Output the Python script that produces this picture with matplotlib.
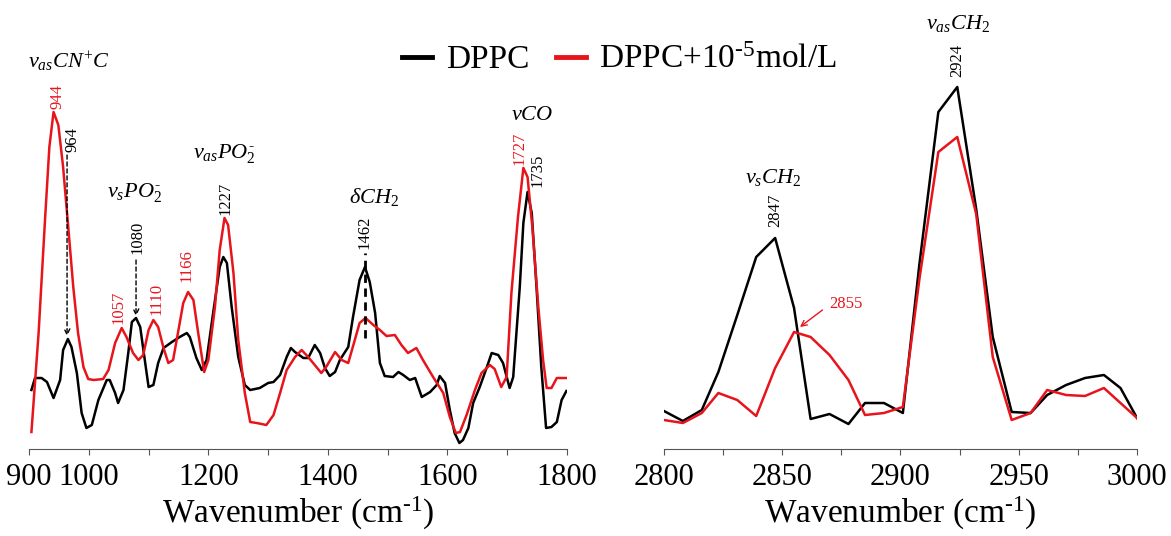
import matplotlib as mpl, matplotlib.pyplot as plt, numpy as np
from matplotlib.lines import Line2D

mpl.rcParams.update({
    'font.family': ['Liberation Serif', 'DejaVu Serif'],
    'mathtext.fontset': 'custom',
    'mathtext.rm': 'Liberation Serif',
    'mathtext.it': 'Liberation Serif:italic',
    'mathtext.bf': 'Liberation Serif:bold',
})

# Fingerprint region (900-1800 cm-1), intensity in arbitrary units
wn_low_dppc = [904, 910, 921, 930, 941, 952, 957, 965, 971, 980, 988, 996, 1005, 1016, 1030, 1035,
               1044, 1049, 1058, 1066, 1072, 1079, 1086, 1092, 1100, 1108, 1116, 1125, 1139, 1152,
               1164, 1169, 1180, 1189, 1197, 1208, 1219, 1225, 1231, 1239, 1250, 1261, 1270, 1286,
               1300, 1309, 1320, 1331, 1338, 1345, 1359, 1367, 1378, 1387, 1395, 1403, 1412, 1420,
               1434, 1442, 1453, 1462, 1470, 1479, 1487, 1495, 1509, 1518, 1526, 1537, 1546, 1557,
               1571, 1582, 1587, 1596, 1604, 1612, 1620, 1626, 1635, 1643, 1654, 1666, 1674, 1685,
               1693, 1704, 1710, 1721, 1727, 1734, 1741, 1749, 1757, 1765, 1774, 1783, 1791, 1799]
int_low_dppc = [59, 71, 71, 67, 51, 69, 99, 110, 102, 76, 36, 21, 24, 49, 69, 69,
                56, 46, 59, 96, 127, 131, 122, 96, 62, 64, 86, 101, 107, 112,
                116, 112, 91, 79, 89, 136, 182, 192, 186, 142, 92, 64, 59, 61,
                66, 67, 74, 92, 101, 97, 91, 91, 104, 96, 81, 73, 77, 89,
                102, 132, 169, 182, 167, 136, 86, 73, 72, 77, 74, 69, 71, 52,
                57, 64, 73, 66, 39, 16, 6, 9, 21, 46, 62, 82, 96, 94,
                86, 61, 72, 162, 226, 257, 236, 162, 82, 21, 22, 27, 49, 58]

wn_low_mix = [904, 916, 927, 934, 941, 949, 957, 966, 974, 982, 991, 999, 1008, 1024, 1033, 1044,
              1055, 1063, 1074, 1083, 1091, 1100, 1108, 1116, 1125, 1133, 1141, 1150, 1158, 1166,
              1175, 1183, 1193, 1200, 1211, 1219, 1227, 1233, 1242, 1250, 1261, 1270, 1281, 1297,
              1309, 1320, 1331, 1345, 1356, 1367, 1389, 1397, 1412, 1423, 1434, 1445, 1453, 1463,
              1476, 1487, 1498, 1512, 1523, 1534, 1548, 1559, 1576, 1593, 1604, 1614, 1621, 1632,
              1646, 1657, 1671, 1679, 1690, 1699, 1707, 1718, 1727, 1734, 1742, 1752, 1760, 1766,
              1774, 1783, 1799]
int_low_mix = [17, 116, 232, 302, 337, 324, 282, 219, 162, 116, 82, 70, 69, 70, 79, 106,
               121, 112, 96, 89, 94, 119, 129, 122, 101, 86, 89, 119, 146, 157,
               149, 116, 77, 89, 142, 199, 231, 224, 176, 109, 56, 27, 26, 24,
               34, 56, 79, 92, 99, 92, 76, 82, 97, 89, 86, 109, 126, 131,
               124, 119, 113, 114, 104, 96, 101, 89, 72, 56, 32, 16, 17, 34,
               59, 76, 84, 80, 62, 72, 156, 232, 281, 272, 222, 142, 89, 61,
               61, 71, 71]

# C-H stretching region (2800-3000 cm-1)
wn_high = [2800, 2808, 2816, 2823, 2831, 2839, 2847, 2855, 2862, 2870, 2878, 2885, 2893, 2901,
           2908, 2916, 2924, 2932, 2939, 2947, 2955, 2962, 2970, 2978, 2986, 2993, 3000]
int_high_dppc = [38, 28, 39, 77, 134, 192, 211, 141, 30, 35, 25, 46, 46, 36,
                 185, 337, 362, 240, 112, 37, 36, 54, 64, 71, 74, 61, 31]
int_high_mix = [29, 26, 36, 56, 49, 33, 81, 117, 112, 94, 69, 34, 36, 42,
                170, 297, 312, 235, 92, 29, 36, 59, 54, 53, 61, 46, 31]

labels = ['DPPC', r'DPPC+10$^{\text{-}5}$mol/L']
colors = ['black', '#e8141c']

fig = plt.figure(figsize=(11.71, 5.36), dpi=100)
ax1 = fig.add_axes([0.0248, 0.1623, 0.4594, 0.8377])
ax2 = fig.add_axes([0.567, 0.1623, 0.404, 0.8377])

ax1.plot(wn_low_dppc, int_low_dppc, color=colors[0], lw=1.8)
ax1.plot(wn_low_mix, int_low_mix, color=colors[1], lw=1.8)
ax2.plot(wn_high, int_high_dppc, color=colors[0], lw=1.8)
ax2.plot(wn_high, int_high_mix, color=colors[1], lw=1.8)

ax1.set_xlim(900, 1800)
ax2.set_xlim(2800, 3000)
ax1.set_xticks(np.arange(900, 1801, 100))
ax1.set_xticklabels(['900', '1000', '', '1200', '', '1400', '', '1600', '', '1800'])
ax2.set_xticks(np.arange(2800, 3001, 25))
ax2.set_xticklabels(['2800', '', '2850', '', '2900', '', '2950', '', '3000'])

for ax in (ax1, ax2):
    ax.set_ylim(0, 449)
    ax.set_yticks([])
    for s in ('left', 'right', 'top'):
        ax.spines[s].set_visible(False)
    ax.spines['bottom'].set_color('#555555')
    ax.tick_params(axis='x', direction='out', length=4, color='#555555', labelsize=22, pad=6)
    ax.set_xlabel(r'Wavenumber (cm$^{\text{-}1}$)', fontsize=24, labelpad=2)
    ax.patch.set_alpha(0)

# peak labels, fingerprint region
it = dict(fontsize=16, ha='center', va='center')
num = dict(fontsize=12, ha='center', va='center', rotation=90)
ax1.text(967, 387, '$v_{as}CN^{+}C$', **it)
ax1.text(1076, 257, r'$v_{s}PO_2^{\text{-}}$', **it)
ax1.text(1226, 296, r'$v_{as}PO_2^{\text{-}}$', **it)
ax1.text(1477, 252, r'$\delta CH_2$', **it)
ax1.text(1741, 334, '$vCO$', **it)

ax1.text(947, 353, '944', color=colors[1], **num)
ax1.text(972, 310, '964', color=colors[0], **num)
ax1.text(1082, 212, '1080', color=colors[0], **num)
ax1.text(1049, 142, '1057', color=colors[1], **num)
ax1.text(1114, 150, '1110', color=colors[1], **num)
ax1.text(1164, 183, '1166', color=colors[1], **num)
ax1.text(1228, 251, '1227', color=colors[0], **num)
ax1.text(1462, 217, '1462', color=colors[0], **num)
ax1.text(1721, 301, '1727', color=colors[1], **num)
ax1.text(1751, 279, '1735', color=colors[0], **num)

arr = dict(arrowstyle='->', color='black', lw=1, linestyle=(0, (3, 2)), shrinkA=0, shrinkB=0)
ax1.annotate('', xy=(963.6, 113), xytext=(963.6, 294), arrowprops=arr)
ax1.annotate('', xy=(1079, 133), xytext=(1079, 189), arrowprops=arr)
ax1.plot([1462, 1462], [111, 196], color='black', lw=2, ls=(0, (3, 2)))

# peak labels, C-H region
ax2.text(2924.3, 426, '$v_{as}CH_2$', **it)
ax2.text(2846, 272, '$v_{s}CH_2$', **it)
ax2.text(2924, 389, '2924', color=colors[0], **num)
ax2.text(2847, 239, '2847', color=colors[0], **num)
ax2.text(2877, 145, '2855', color=colors[1], fontsize=12, ha='center', va='center')
ax2.annotate('', xy=(2857.5, 122), xytext=(2867, 139),
             arrowprops=dict(arrowstyle='->', color=colors[1], lw=1, shrinkA=0, shrinkB=0))

handles = [Line2D([], [], color=c, lw=3.5) for c in colors]
fig.legend(handles, labels, loc='center', bbox_to_anchor=(0.529, 0.888), ncol=2, frameon=False,
           fontsize=24, handlelength=0.9, handletextpad=0.4, columnspacing=0.8)

fig.savefig('out.png', dpi=100)
